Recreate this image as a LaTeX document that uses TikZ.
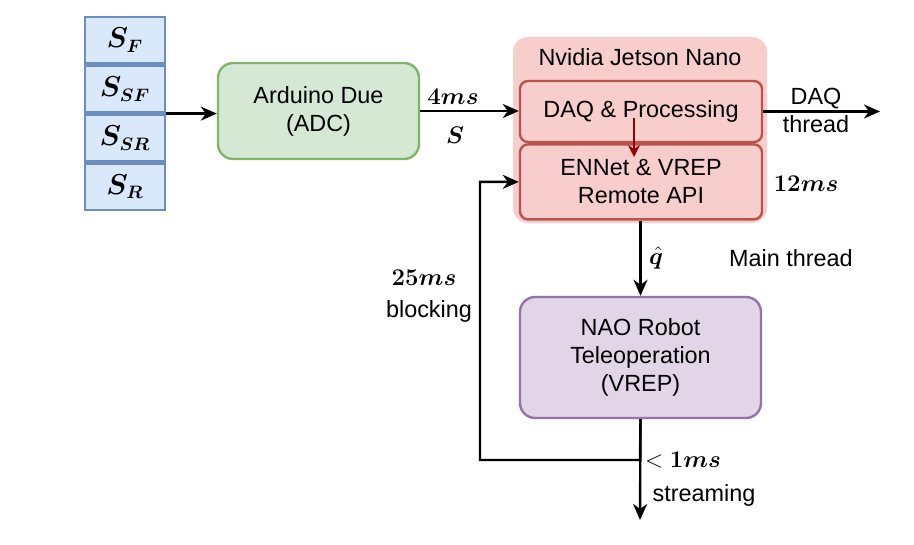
\documentclass[tikz,border=0pt]{standalone}
\usepackage{amsmath,amssymb,bm}
\usepackage{fontspec}
\setmainfont{Liberation Sans}
\usepackage{tikz}
\usetikzlibrary{arrows.meta,positioning}
\definecolor{sensFill}{HTML}{DAE8FC}
\definecolor{sensLine}{HTML}{6C8EBF}
\definecolor{adcFill}{HTML}{D5E8D4}
\definecolor{adcLine}{HTML}{82B366}
\definecolor{nanoFill}{HTML}{F8CECC}
\definecolor{nanoLine}{HTML}{B85450}
\definecolor{naoFill}{HTML}{E1D5E7}
\definecolor{naoLine}{HTML}{9673A6}
\definecolor{darkRed}{HTML}{990000}
\tikzset{
  sens/.style={draw=sensLine, fill=sensFill, line width=1.2pt, minimum width=40pt, minimum height=23.25pt, inner sep=0pt, font=\fontsize{13.5}{15}\selectfont},
  blk/.style={line width=1.2pt, align=center, inner sep=2pt, font=\fontsize{11.7}{14}\selectfont},
  sub/.style={blk, draw=nanoLine, fill=nanoFill, rounded corners=4pt, minimum width=121pt},
  tlab/.style={inner sep=1pt, font=\fontsize{12.5}{14}\selectfont},
  txt/.style={inner sep=1pt, align=center, font=\fontsize{11.7}{14}\selectfont},
  flow/.style={line width=1.2pt, -{Stealth[length=8pt, width=7pt, inset=2.5pt]}}
}

\begin{document}
\begin{tikzpicture}[x=0.5pt, y=-0.5pt]
\useasboundingbox (0,0) rectangle (914,545);
% sensor stack
\node[sens] (sf) at (125,40.25) {$\boldsymbol{S_F}$};
\node[sens, below=0pt of sf] (ssf) {$\boldsymbol{S_{SF}}$};
\node[sens, below=0pt of ssf] (ssr) {$\boldsymbol{S_{SR}}$};
\node[sens, below=0pt of ssr] (sr) {$\boldsymbol{S_R}$};
% blocks
\node[blk, draw=adcLine, fill=adcFill, rounded corners=7.5pt, minimum width=100.5pt, minimum height=48pt] (adc) at (318.5,111) {Arduino Due\\(ADC)};
\node[blk, fill=nanoFill, rounded corners=7.5pt, minimum width=127pt, minimum height=93pt] (nano) at (640,130) {};
\node[txt] (nanot) at (640,57) {Nvidia Jetson Nano};
\node[sub, minimum height=30.5pt] (daq) at (641,111.5) {DAQ \& Processing};
\node[sub, minimum height=37.5pt, below=0pt of daq] (ennet) {ENNet \& VREP\\Remote API};
\node[blk, draw=naoLine, fill=naoFill, rounded corners=7.5pt, minimum width=120.5pt, minimum height=60.5pt] (nao) at (640.5,357.5) {NAO Robot\\Teleoperation\\(VREP)};
% free ends
\coordinate (rs) at (634,118);
\coordinate (re) at (634,157);
\coordinate (dq) at (880,111.5);
\coordinate (j) at (640,460);
\coordinate (lp) at (480,460);
\coordinate (out) at (640,520);
% connectors
\draw[flow] (ssf.south east) -- (adc.west |- ssf.south east);
\draw[flow] (adc.east) -- (daq.west |- adc.east);
\draw[flow] (daq.east) -- (dq);
\draw[darkRed, line width=1.2pt, -{Stealth[length=6pt, width=6pt, inset=2pt]}] (rs) -- (re);
\draw[flow] (ennet.south -| nao.north) -- (nao.north);
\draw[flow] (nao.south) -- (j) -- (lp) |- (ennet.west);
\draw[flow] (nao.south) -- (out);
% labels
\node[tlab] (l4) at (453,97) {$\boldsymbol{4ms}$};
\node[tlab] (ls) at (455,135) {$\boldsymbol{S}$};
\node[txt] (ldq) at (816,110) {DAQ\\thread};
\node[tlab] (l12) at (806,184) {$\boldsymbol{12ms}$};
\node[tlab] (lq) at (656,258) {$\boldsymbol{\hat{q}}$};
\node[txt] (lmain) at (791,258) {Main thread};
\node[tlab] (l25) at (424,278) {$\boldsymbol{25ms}$};
\node[txt] (lblk) at (429,311) {blocking};
\node[tlab] (l1) at (683,460) {$<\boldsymbol{1ms}$};
\node[txt] (lstr) at (704,495) {streaming};
\end{tikzpicture}
\end{document}
